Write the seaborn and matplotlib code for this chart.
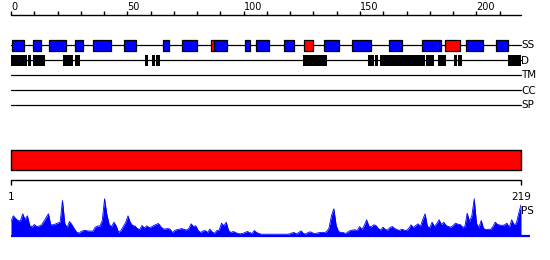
import numpy as np
import pandas as pd
import matplotlib
matplotlib.use("Agg")
import matplotlib.pyplot as plt
import matplotlib.transforms as mtransforms
import seaborn as sns

# ---------------- data ----------------
seq_len = 219
ruler_major = [0, 50, 100, 150, 200]
ruler_minor = list(range(0, 220, 10))
track_names = ["SS", "D", "TM", "CC", "SP"]

# secondary structure: helices (blue) and strands (red), residue units
helix_start = [0.6, 9.6, 16.5, 27.6, 35.4, 48.7, 65.3, 73.6, 87.3, 100.6,
               105.3, 117.5, 134.7, 146.7, 162.6, 176.8, 195.6, 208.5]
helix_end = [5.5, 12.8, 23.5, 30.8, 42.9, 53.6, 67.8, 79.8, 92.7, 102.7,
             110.8, 121.8, 141.0, 154.6, 167.9, 184.7, 202.7, 213.8]
strand_start = [85.8, 125.8, 186.7]
strand_end = [87.3, 129.7, 192.9]

# disorder segments
dis_start = [0.0, 7.2, 9.5, 22.5, 27.5, 57.6, 60.6, 62.5, 125.6, 153.6,
             156.5, 158.7, 178.2, 183.4, 190.4, 192.3, 213.8]
dis_end = [6.7, 8.5, 14.6, 26.6, 29.7, 59.0, 62.0, 64.0, 135.8, 155.9,
           157.9, 177.9, 181.8, 187.0, 191.7, 193.7, 219.1]

# domain bar
domain_start = [0.0]
domain_end = [219.0]

# PS profile, one value per residue 1..219
ps_values = [
    14, 19.7, 17, 15, 14.5, 21.7, 16, 19.7, 10, 8.5,
    11, 9, 9.5, 10.5, 14, 18, 21.7, 10.7, 10.7, 11.5,
    12.5, 13.3, 35, 12, 8, 14, 11, 7, 3.5, 2.3,
    4, 5, 5, 4.5, 4.5, 4.3, 8.3, 9.5, 9.5, 15,
    36.7, 20.7, 10.7, 9, 13.3, 9.5, 3, 5, 9, 13,
    19.7, 13, 10, 9.5, 7, 6, 10, 7.5, 9.7, 8,
    8.5, 10, 11, 12, 9, 6.7, 6.5, 7, 6.3, 3,
    5, 6, 6.3, 7, 6, 5.5, 7, 11.7, 9, 9.7,
    5, 3, 4.5, 5, 3, 6.3, 3.5, 2.3, 5, 5.5,
    12.3, 9.7, 13.3, 5, 3, 4, 3, 2, 1.7, 2,
    3, 4, 3, 2, 5, 3, 2, 1.3, 1.3, 1.3,
    1.3, 1.3, 1.3, 1.3, 1.3, 1.3, 1.3, 1.3, 1.3, 1.5,
    2.5, 3, 1.5, 3, 4.7, 2, 1.5, 3, 3.7, 2.5,
    2, 2.5, 3, 3, 3, 4, 8, 20, 26.7, 10,
    4, 3, 3, 2, 3.5, 5, 5.5, 5.7, 5, 9,
    6, 10, 15.7, 9.5, 8.5, 10.7, 10, 7, 5.5, 8.3,
    6, 5.5, 8, 9, 7, 6, 5, 6.3, 5.5, 5,
    7, 10.7, 8, 10, 11.7, 9, 16, 21.7, 9, 8,
    13.3, 9, 12, 15.7, 11, 13.3, 10, 9, 8.3, 10,
    12.3, 11.3, 11, 8.3, 9, 22.3, 14, 20, 36.7, 12,
    8, 15, 7, 6, 6.3, 6, 9, 13.3, 11, 10.5,
    10, 10.7, 12.3, 8, 15.7, 11, 12, 22, 30.7,
]
ps_ticks = [1, 219]

# ---------------- style / layout ----------------
sns.set_style("white")
plt.rcParams["font.family"] = ["DejaVu Sans"]

W, H = 550, 260
fig = plt.figure(figsize=(W / 100, H / 100), dpi=100)
s = 509.5 / 219.0  # px per residue on the top scale
ax = fig.add_axes([0, 0, 1, 1])
ax.set_xlim(-11 / s, (W - 11) / s)
ax.set_ylim(H, 0)
ax.axis("off")

BLUE, RED, BLACK = "#0000ff", "#ff0000", "#000000"
RULER_Y = 15
TRACK_Y = {"SS": 45, "D": 60, "TM": 75, "CC": 90, "SP": 105}
BOX_H = 11

# top ruler
ax.plot([0, seq_len], [RULER_Y, RULER_Y], color=BLACK, lw=1)
ax.vlines(ruler_minor, RULER_Y - 4, RULER_Y, color=BLACK, lw=1)
for t in ruler_major:
    ax.text(t, 9.6, str(t), ha="left", va="baseline", fontsize=7, color=BLACK)

# track lines + labels
for name in track_names:
    y = TRACK_Y[name]
    ax.plot([0, seq_len], [y, y], color=BLACK, lw=0.9)
    ax.text(seq_len + 0.4, y + 0.5, name, ha="left", va="center", fontsize=7.5,
            color=BLACK)

# SS boxes
ss_y = TRACK_Y["SS"]
ax.broken_barh([(a, b - a) for a, b in zip(helix_start, helix_end)],
               (ss_y - BOX_H / 2, BOX_H), facecolors=BLUE, edgecolors=BLACK,
               linewidth=0.9, zorder=3)
ax.broken_barh([(a, b - a) for a, b in zip(strand_start, strand_end)],
               (ss_y - BOX_H / 2, BOX_H), facecolors=RED, edgecolors=BLACK,
               linewidth=0.9, zorder=3)

# disorder boxes
d_y = TRACK_Y["D"]
ax.broken_barh([(a, b - a) for a, b in zip(dis_start, dis_end)],
               (d_y - BOX_H / 2, BOX_H), facecolors=BLACK, edgecolors="none",
               zorder=3)

# domain bar
ax.broken_barh([(a, b - a) for a, b in zip(domain_start, domain_end)],
               (150, 20), facecolors=RED, edgecolors=BLACK, linewidth=1,
               zorder=3)

# PS axes
base_px = 235.5
ax_ps = fig.add_axes([11 / W, (H - base_px) / H, 510 / W, 40 / H])
ax_ps.set_xlim(1, seq_len)
ax_ps.set_ylim(0, 40)
ax_ps.axis("off")
ps_df = pd.DataFrame({"residue": np.arange(1, seq_len + 1), "ps": ps_values})
ax_ps.fill_between(ps_df["residue"], 0, ps_df["ps"], color=BLUE, lw=0)
sns.lineplot(data=ps_df, x="residue", y="ps", ax=ax_ps, color=BLUE, lw=0.6)
ax_ps.plot([1, 223], [0, 0], color=BLUE, lw=1.6, clip_on=False,
           solid_capstyle="butt")

# bottom ruler (x in residue units of PS axes, y in layout px)
trans = mtransforms.blended_transform_factory(ax_ps.transData, ax.transData)
ax.plot([1, seq_len], [180, 180], color=BLACK, lw=1, transform=trans,
        clip_on=False)
ax.vlines(ps_ticks, 180, 185, color=BLACK, lw=1, transform=trans)
for t in ps_ticks:
    ax.text(t, 200, str(t), ha="center", va="baseline", fontsize=7.5,
            color=BLACK, transform=trans)
ax.text(seq_len + 0.2, 210.5, "PS", ha="left", va="center", fontsize=7.5,
        color=BLACK, transform=trans)

fig.savefig("out.png", dpi=100)
